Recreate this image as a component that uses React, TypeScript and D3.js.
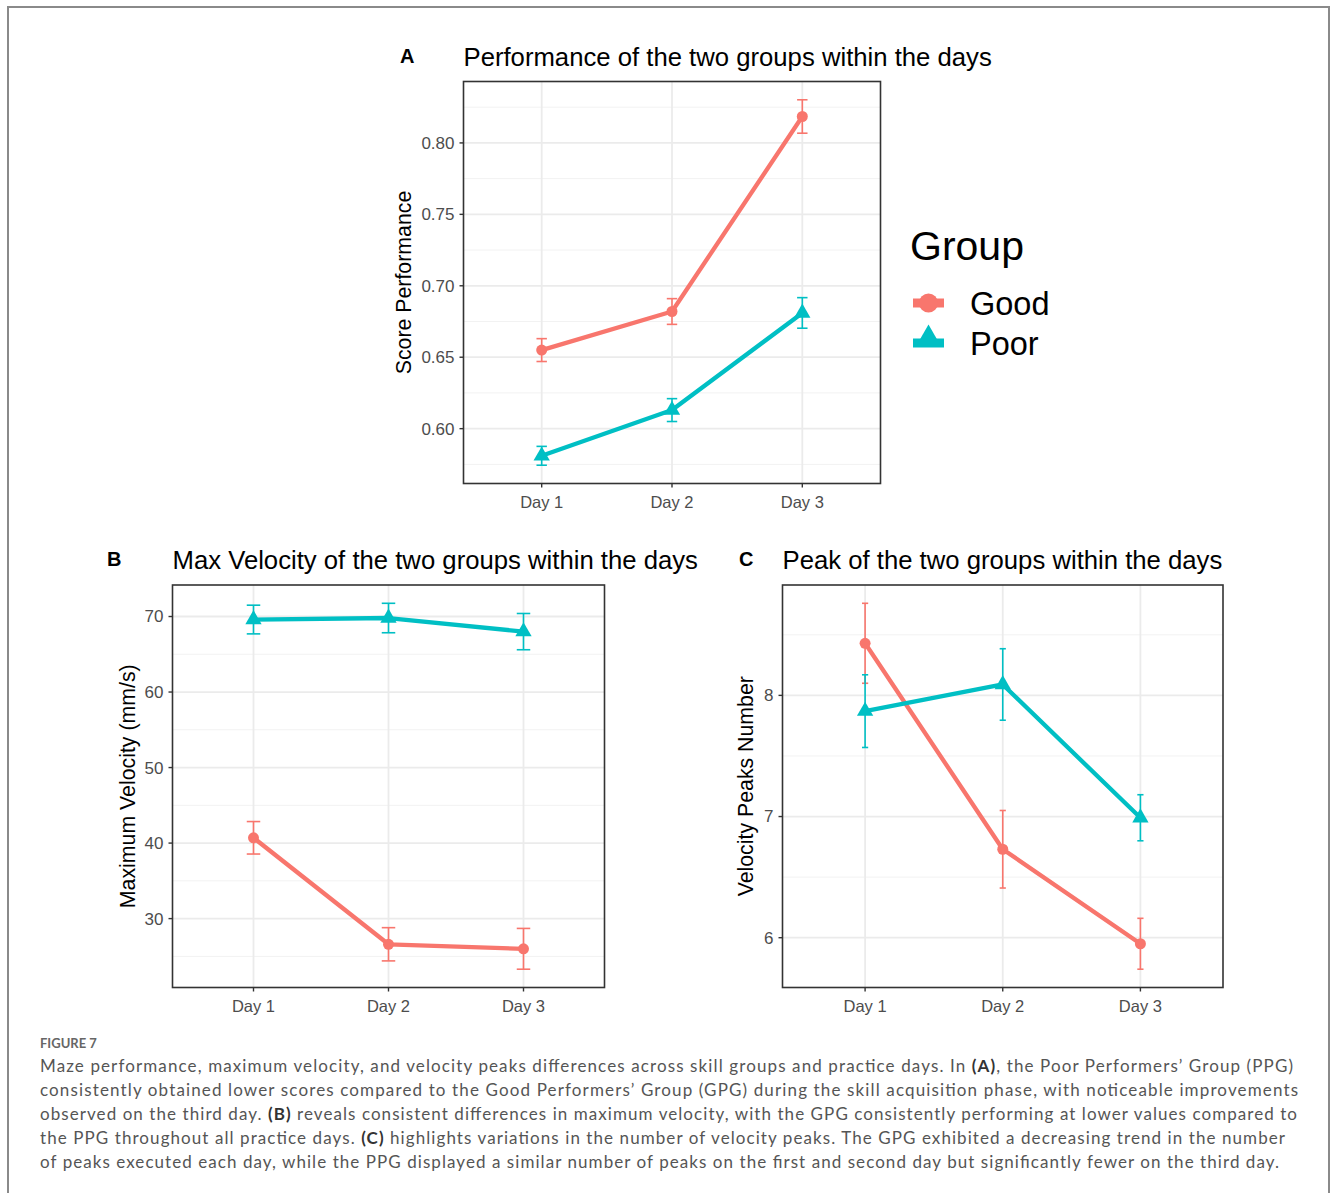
import React from "react";
import * as d3 from "d3";

// ---------- data ----------
const days = ["Day 1", "Day 2", "Day 3"];
const groups = ["Good", "Poor"];

const scoreGood = [0.655, 0.682, 0.8185];
const scoreGoodSE = [0.008, 0.009, 0.0117];
const scorePoor = [0.581, 0.613, 0.681];
const scorePoorSE = [0.0066, 0.008, 0.0107];
const scoreTicks = [0.6, 0.65, 0.7, 0.75, 0.8];

const velGood = [40.7, 26.6, 26.0];
const velGoodSE = [2.15, 2.2, 2.7];
const velPoor = [69.6, 69.8, 68.0];
const velPoorSE = [1.9, 1.95, 2.4];
const velTicks = [30, 40, 50, 60, 70];

const peakGood = [8.43, 6.73, 5.95];
const peakGoodSE = [0.33, 0.32, 0.21];
const peakPoor = [7.87, 8.09, 6.99];
const peakPoorSE = [0.3, 0.295, 0.19];
const peakTicks = [6, 7, 8];

const captionLines = [
  [["Maze performance, maximum velocity, and velocity peaks differences across skill groups and practice days. In ", false], ["(A)", true], [", the Poor Performers’ Group (PPG)", false]],
  [["consistently obtained lower scores compared to the Good Performers’ Group (GPG) during the skill acquisition phase, with noticeable improvements", false]],
  [["observed on the third day. ", false], ["(B)", true], [" reveals consistent differences in maximum velocity, with the GPG consistently performing at lower values compared to", false]],
  [["the PPG throughout all practice days. ", false], ["(C)", true], [" highlights variations in the number of velocity peaks. The GPG exhibited a decreasing trend in the number", false]],
  [["of peaks executed each day, while the PPG displayed a similar number of peaks on the first and second day but significantly fewer on the third day.", false]],
];
const captionWidths = [1253, 1258, 1257, 1245, 1239];

// ---------- style ----------
const COLORS = ["#F8766D", "#00BFC4"];
const FONT = "'Liberation Sans', Arial, Helvetica, sans-serif";
const CAP_FONT = "Lato, 'Open Sans', sans-serif";

type PanelProps = {
  box: { left: number; top: number; right: number; bottom: number };
  good: number[];
  goodSE: number[];
  poor: number[];
  poorSE: number[];
  ticks: number[];
  fmt: (v: number) => string;
  title: string;
  letter: string;
  letterX: number;
  ylabel: string;
  ylabelX: number;
  capFrac: number;
};

function Panel(p: PanelProps) {
  const { box } = p;
  const allLo = [...p.good.map((v, i) => v - p.goodSE[i]), ...p.poor.map((v, i) => v - p.poorSE[i])];
  const allHi = [...p.good.map((v, i) => v + p.goodSE[i]), ...p.poor.map((v, i) => v + p.poorSE[i])];
  const lo = d3.min(allLo)!;
  const hi = d3.max(allHi)!;
  const pad = (hi - lo) * 0.05;
  const y = d3.scaleLinear().domain([lo - pad, hi + pad]).range([box.bottom, box.top]);
  const x = d3.scalePoint<string>().domain(days).range([box.left, box.right]).padding(0.6);
  const step = p.ticks[1] - p.ticks[0];
  const minor: number[] = [];
  for (let t = p.ticks[0] - step / 2; t <= p.ticks[p.ticks.length - 1] + step / 2 + 1e-9; t += step) {
    if (t > lo - pad && t < hi + pad) minor.push(t);
  }
  const line = d3
    .line<number>()
    .x((_, i) => x(days[i])!)
    .y((v) => y(v));
  const capHalf = (x.step() * p.capFrac) / 2;
  const series = [
    { vals: p.good, se: p.goodSE, color: COLORS[0], shape: "circle" },
    { vals: p.poor, se: p.poorSE, color: COLORS[1], shape: "triangle" },
  ];
  const tri = d3.symbol(d3.symbolTriangle, 115)()!;
  const cy = (box.top + box.bottom) / 2;
  return (
    <g fontFamily={FONT}>
      <text x={p.letterX} y={box.top - 19} fontSize={20} fontWeight="bold" fill="#000">
        {p.letter}
      </text>
      <text x={box.left} y={box.top - 16} fontSize={25.7} fill="#000">
        {p.title}
      </text>
      {minor.map((t) => (
        <line key={"mn" + t} x1={box.left} x2={box.right} y1={y(t)} y2={y(t)} stroke="#F2F2F2" strokeWidth={1} />
      ))}
      {p.ticks.map((t) => (
        <line key={"mj" + t} x1={box.left} x2={box.right} y1={y(t)} y2={y(t)} stroke="#EBEBEB" strokeWidth={1.8} />
      ))}
      {days.map((d) => (
        <line key={"vx" + d} x1={x(d)} x2={x(d)} y1={box.top} y2={box.bottom} stroke="#EBEBEB" strokeWidth={1.8} />
      ))}
      {series.map((s, si) => (
        <path key={"l" + si} d={line(s.vals)!} fill="none" stroke={s.color} strokeWidth={4.3} strokeLinejoin="round" />
      ))}
      {series.map((s, si) =>
        s.vals.map((v, i) => {
          const cx = x(days[i])!;
          return (
            <g key={"e" + si + i} stroke={s.color} strokeWidth={1.6}>
              <line x1={cx} x2={cx} y1={y(v - s.se[i])} y2={y(v + s.se[i])} />
              <line x1={cx - capHalf} x2={cx + capHalf} y1={y(v + s.se[i])} y2={y(v + s.se[i])} />
              <line x1={cx - capHalf} x2={cx + capHalf} y1={y(v - s.se[i])} y2={y(v - s.se[i])} />
            </g>
          );
        })
      )}
      {series.map((s, si) =>
        s.vals.map((v, i) =>
          s.shape === "circle" ? (
            <circle key={"p" + si + i} cx={x(days[i])} cy={y(v)} r={5.5} fill={s.color} />
          ) : (
            <path key={"p" + si + i} d={tri} transform={`translate(${x(days[i])},${y(v)})`} fill={s.color} />
          )
        )
      )}
      <rect
        x={box.left}
        y={box.top}
        width={box.right - box.left}
        height={box.bottom - box.top}
        fill="none"
        stroke="#333333"
        strokeWidth={1.6}
      />
      {p.ticks.map((t) => (
        <g key={"yt" + t}>
          <line x1={box.left - 4} x2={box.left} y1={y(t)} y2={y(t)} stroke="#333333" strokeWidth={1.4} />
          <text x={box.left - 9} y={y(t)} dy="0.35em" textAnchor="end" fontSize={17} fill="#4D4D4D">
            {p.fmt(t)}
          </text>
        </g>
      ))}
      {days.map((d) => (
        <g key={"xt" + d}>
          <line x1={x(d)} x2={x(d)} y1={box.bottom} y2={box.bottom + 4} stroke="#333333" strokeWidth={1.4} />
          <text x={x(d)} y={box.bottom + 19} dy="0.35em" textAnchor="middle" fontSize={16.5} fill="#4D4D4D">
            {d}
          </text>
        </g>
      ))}
      <text
        transform={`translate(${p.ylabelX},${cy}) rotate(-90)`}
        textAnchor="middle"
        dy="0.35em"
        fontSize={21.3}
        fill="#000"
      >
        {p.ylabel}
      </text>
    </g>
  );
}

export default function App() {
  const tri = d3.symbol(d3.symbolTriangle, 270)()!;
  return (
    <svg width={1333} height={1193} style={{ position: "absolute", left: 0, top: 0, background: "#fff" }}>
      <rect x={0} y={0} width={1333} height={1193} fill="#fff" />
      <path d="M8,1193 V7 H1329 V1193" fill="none" stroke="#8a8a8a" strokeWidth={2} />
      <Panel
        box={{ left: 463.5, top: 81.5, right: 880.5, bottom: 483.5 }}
        good={scoreGood}
        goodSE={scoreGoodSE}
        poor={scorePoor}
        poorSE={scorePoorSE}
        ticks={scoreTicks}
        fmt={d3.format(".2f")}
        title="Performance of the two groups within the days"
        letter="A"
        letterX={400}
        ylabel="Score Performance"
        ylabelX={404}
        capFrac={0.08}
      />
      <Panel
        box={{ left: 172.5, top: 585, right: 604.5, bottom: 987.5 }}
        good={velGood}
        goodSE={velGoodSE}
        poor={velPoor}
        poorSE={velPoorSE}
        ticks={velTicks}
        fmt={d3.format("d")}
        title="Max Velocity of the two groups within the days"
        letter="B"
        letterX={107}
        ylabel="Maximum Velocity (mm/s)"
        ylabelX={128}
        capFrac={0.1}
      />
      <Panel
        box={{ left: 782.5, top: 585, right: 1223, bottom: 987.5 }}
        good={peakGood}
        goodSE={peakGoodSE}
        poor={peakPoor}
        poorSE={peakPoorSE}
        ticks={peakTicks}
        fmt={d3.format("d")}
        title="Peak of the two groups within the days"
        letter="C"
        letterX={739}
        ylabel="Velocity Peaks Number"
        ylabelX={746}
        capFrac={0.045}
      />
      {/* legend */}
      <g fontFamily={FONT}>
        <text x={910} y={260} fontSize={41} fill="#000">
          Group
        </text>
        {groups.map((g, i) => {
          const ky = 303 + i * 40;
          return (
            <g key={g}>
              <line x1={913} x2={944} y1={ky} y2={ky} stroke={COLORS[i]} strokeWidth={9} />
              {i === 0 ? (
                <circle cx={928.5} cy={ky} r={9.5} fill={COLORS[i]} />
              ) : (
                <path d={tri} transform={`translate(928.5,${ky - 4})`} fill={COLORS[i]} />
              )}
              <text x={970} y={ky + 12} fontSize={32.5} fill="#000">
                {g}
              </text>
            </g>
          );
        })}
      </g>
      {/* caption */}
      <g fontFamily={CAP_FONT}>
        <text x={40} y={1048} fontSize={13} fontWeight="bold" fill="#666">
          FIGURE 7
        </text>
        {captionLines.map((ln, li) => (
          <text
            key={li}
            x={40}
            y={1072 + li * 24}
            fontSize={17}
            fill="#555"
            textLength={captionWidths[li]}
            lengthAdjust="spacing"
          >
            {ln.map((seg, si) => (
              <tspan key={si} fontWeight={seg[1] ? "bold" : "normal"} fill={seg[1] ? "#333" : "#555"}>
                {seg[0] as string}
              </tspan>
            ))}
          </text>
        ))}
      </g>
    </svg>
  );
}
